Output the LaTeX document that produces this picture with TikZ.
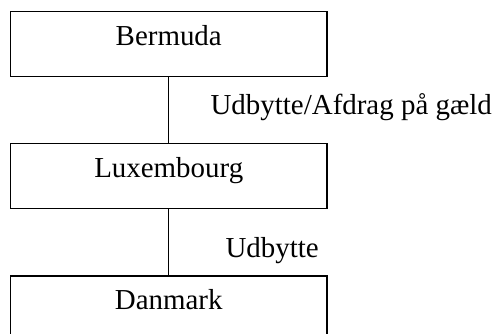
\documentclass[tikz,border=0pt]{standalone}
\usepackage{fontspec}
\setmainfont{Liberation Serif}
\usetikzlibrary{positioning}
\begin{document}
\begin{tikzpicture}[box/.style = {draw, rectangle, line width = 0.9pt, inner sep = 0pt,
                        minimum width = 237.4pt, text height = 25.5pt, text depth = 23.25pt},
                    flow/.style = {line width = 0.9pt},
                    flowlabel/.style = {anchor = base west, inner sep = 0pt},
                    node distance = 49.5pt,
                    font = \fontsize{21.7}{26}\selectfont]
				\useasboundingbox (0,0) rectangle (372pt,-250.5pt);
				\node (bermuda) at (126.56pt, -8.25pt) [box, anchor = north] {Bermuda};
				\node (luxembourg) [box, below = of bermuda] {Luxembourg};
				\node (danmark) [box, below = of luxembourg] {Danmark};
				\draw[flow] (bermuda) -- (luxembourg)
					node[midway, flowlabel, xshift = 30.94pt, yshift = -3pt] {Udbytte/Afdrag på gæld};
				\draw[flow] (luxembourg) -- (danmark)
					node[midway, flowlabel, xshift = 42.19pt, yshift = -11.25pt] {Udbytte};
				\end{tikzpicture}
\end{document}
